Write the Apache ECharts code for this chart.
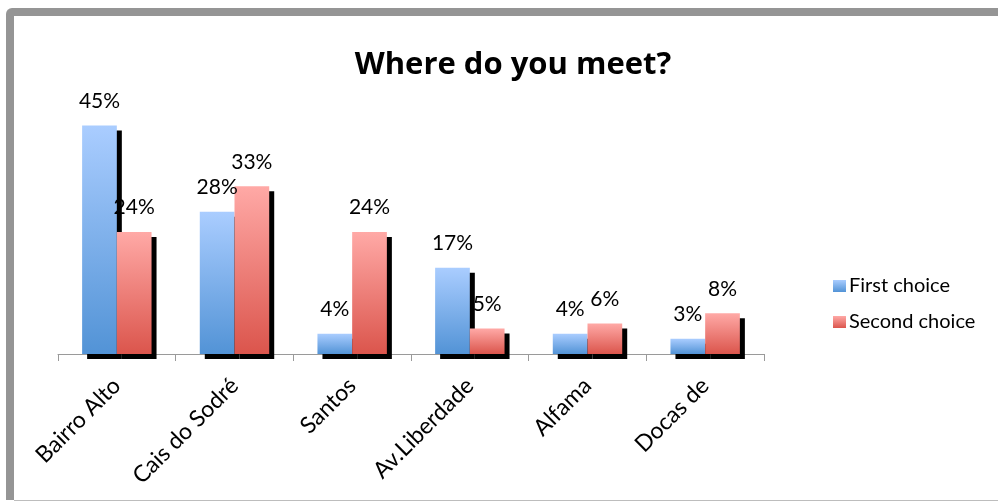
<!DOCTYPE html>
<html>
<head>
<meta charset="utf-8">
<script src="https://cdn.jsdelivr.net/npm/echarts@6/dist/echarts.min.js"></script>
<style>
  html, body { margin: 0; padding: 0; background: #fff; overflow: hidden; }
  #chart { width: 998px; height: 502px; }
</style>
</head>
<body>
<div id="chart"></div>
<script>
// Meeting places survey: share of first and second choices
const places = ['Bairro Alto', 'Cais do Sodré', 'Santos', 'Av.Liberdade', 'Alfama', 'Docas de'];
const firstChoice = [45, 28, 4, 17, 4, 3];
const secondChoice = [24, 33, 24, 5, 6, 8];

const FONT = 'Lato';

function grad(top, bottom) {
  return new echarts.graphic.LinearGradient(0, 0, 0, 1, [
    { offset: 0, color: top },
    { offset: 1, color: bottom }
  ]);
}

const blueFill = grad('#aacdff', '#5293d6');
const redFill = grad('#ffa9a6', '#db554c');

const barShadow = {
  shadowColor: '#000',
  shadowBlur: 0,
  shadowOffsetX: 5,
  shadowOffsetY: 5
};

const chart = echarts.init(document.getElementById('chart'), null, { renderer: 'canvas' });

const labelStyle = {
  show: true,
  position: 'top',
  distance: 14,
  formatter: p => p.value + '%',
  fontFamily: FONT,
  fontSize: 21,
  color: '#000'
};

const FRAME = '#959595';

chart.setOption({
  animation: false,
  backgroundColor: '#fff',
  graphic: [
    // panel frame: grey band along the top and left, thin rule at the bottom
    { type: 'rect', z: -10, shape: { x: 12, y: 8, width: 990, height: 8 }, style: { fill: FRAME } },
    { type: 'rect', z: -10, shape: { x: 6, y: 14, width: 8, height: 486 }, style: { fill: FRAME } },
    { type: 'rect', z: -10, shape: { x: 6, y: 8, width: 16, height: 16, r: [6, 0, 0, 0] }, style: { fill: FRAME } },
    { type: 'rect', z: -9, shape: { x: 14, y: 16, width: 10, height: 10 }, style: { fill: '#fff' } },
    { type: 'rect', z: -9, shape: { x: 14, y: 500, width: 990, height: 1 }, style: { fill: '#bdbdbd' } }
  ],
  title: {
    text: 'Where do you meet?',
    left: 508,
    top: 45,
    textAlign: 'center',
    textStyle: { fontFamily: 'Open Sans', fontWeight: 'bold', fontSize: 31, color: '#000' }
  },
  legend: {
    orient: 'vertical',
    left: 828,
    top: 271,
    itemWidth: 13,
    itemHeight: 12,
    itemGap: 16,
    icon: 'rect',
    textStyle: { fontFamily: FONT, fontSize: 20, color: '#000', padding: [0, 0, 0, -2] },
    data: ['First choice', 'Second choice']
  },
  grid: { left: 58, right: 234, top: 100, bottom: 148, containLabel: false },
  xAxis: {
    type: 'category',
    data: places,
    axisLine: { show: true, lineStyle: { color: '#9a9a9a', width: 1 } },
    axisTick: { show: true, length: 7, alignWithLabel: false, lineStyle: { color: '#9a9a9a' } },
    axisLabel: {
      rotate: 45,
      margin: 28,
      fontFamily: FONT,
      fontSize: 23,
      color: '#000',
      interval: 0
    }
  },
  yAxis: {
    type: 'value',
    min: 0,
    max: 50,
    show: false,
    splitLine: { show: false }
  },
  series: [
    {
      name: 'First choice',
      type: 'bar',
      data: firstChoice,
      barGap: '0%',
      barCategoryGap: '41%',
      itemStyle: Object.assign({ color: blueFill }, barShadow),
      label: labelStyle
    },
    {
      name: 'Second choice',
      type: 'bar',
      data: secondChoice,
      barGap: '0%',
      barCategoryGap: '41%',
      itemStyle: Object.assign({ color: redFill }, barShadow),
      label: labelStyle
    }
  ]
});
</script>
</body>
</html>
